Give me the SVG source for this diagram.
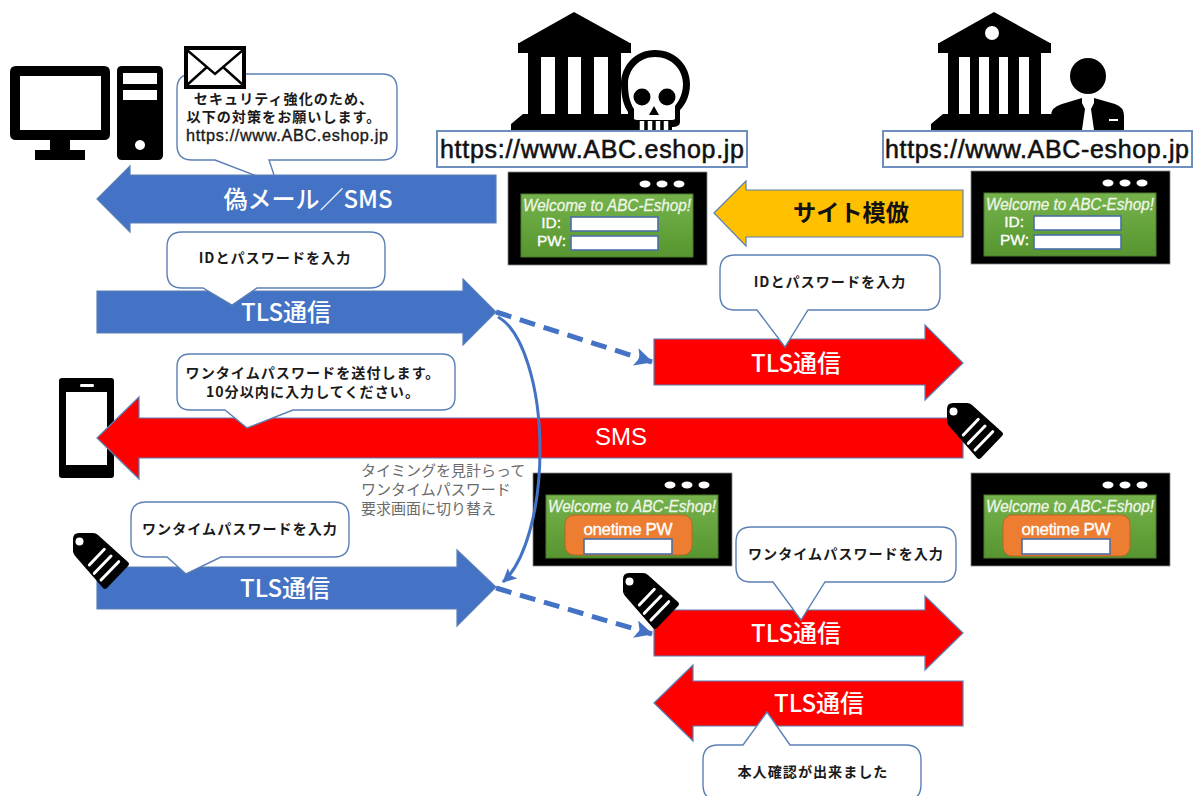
<svg xmlns="http://www.w3.org/2000/svg" xmlns:xlink="http://www.w3.org/1999/xlink" width="1198" height="796" viewBox="0 0 1198 796">
<style>
text{font-family:"Liberation Sans","Noto Sans CJK JP",sans-serif}
.cjk{font-family:"Noto Sans CJK JP","Liberation Sans",sans-serif}
.call{fill:#fff;stroke:#5b7fb5;stroke-width:1.4}
.ct{font-size:14.1px;font-weight:700;fill:#1a1a1a;text-anchor:middle;letter-spacing:1px}
.arr{stroke:#5b7fb5;stroke-width:1.2}
.blue{fill:#4472c4}.red{fill:#f00}.gold{fill:#ffc000}
.at{fill:#fff;font-size:24px;font-weight:500;text-anchor:middle;dominant-baseline:central}
.url{fill:#fff;stroke:#6f8fbf;stroke-width:2}
.ut{font-size:25px;fill:#111;stroke:#111;stroke-width:.55;text-anchor:middle}
.inp{fill:#fff;stroke:#4c6ea8;stroke-width:1.6}
.wel{font-size:17px;font-style:italic;fill:#eef6e8;stroke:#eef6e8;stroke-width:.3;text-anchor:middle}
.lab{font-size:15.5px;fill:#fff;stroke:#fff;stroke-width:.35;text-anchor:end}
.ot{font-size:17px;fill:#fff;stroke:#fff;stroke-width:.35;text-anchor:middle}
.dash{fill:none;stroke:#4472c4;stroke-width:5;stroke-dasharray:16 9}
.gr{font-size:15px;fill:#6b6b6b}
</style>
<defs>
<linearGradient id="green" x1="0" y1="0" x2="0" y2="1"><stop offset="0" stop-color="#76b34c"/><stop offset="1" stop-color="#56952f"/></linearGradient>
<marker id="ah" markerUnits="userSpaceOnUse" markerWidth="20" markerHeight="20" refX="17" refY="9" orient="auto"><path d="M0,0L18,9L0,18L4,9Z" fill="#4472c4"/></marker>
<marker id="ah2" markerUnits="userSpaceOnUse" markerWidth="16" markerHeight="16" refX="13" refY="7" orient="auto"><path d="M0,0L14,7L0,14L3,7Z" fill="#4472c4"/></marker>
<g id="tag">
<path d="M6,0H20Q23,0 25,2L55,29Q57,31 55,33L34,55Q32,57 30,55L3,24Q1,22 0,19V6Q0,0 6,0Z" fill="#000"/>
<circle cx="6.5" cy="8.5" r="4" fill="#fff"/>
<path d="M31.3,16.3L16.3,32M38,23L21.3,40.3M45.7,28.7L28,47" stroke="#fff" stroke-width="3" stroke-linecap="round" fill="none"/>
</g>
<g id="win">
<rect width="199" height="93" fill="#000" stroke="#888" stroke-width=".8"/>
<ellipse cx="137" cy="12" rx="5.500" ry="3.400" fill="#fff"/><ellipse cx="154" cy="12" rx="5.500" ry="3.400" fill="#fff"/><ellipse cx="171" cy="12" rx="5.500" ry="3.400" fill="#fff"/>
<rect x="13" y="22" width="172" height="63" fill="url(#green)" stroke="#4d7a30"/>
<text class="wel" x="99" y="39" textLength="168" lengthAdjust="spacingAndGlyphs">Welcome to ABC-Eshop!</text>
</g>
<g id="bank">
<path d="M56,0L1,31H0V41H10V102H5L-7,112V120H120V102H103V41H113V31H112Z" fill="#000"/>
</g>
</defs>

<g id="pc">
<path fill-rule="evenodd" d="M16,66H104Q110,66 110,72V134Q110,140 104,140H70V150H85V160H35V150H50V140H16Q10,140 10,134V72Q10,66 16,66ZM20,76V130H101V76Z" fill="#000"/>
<path fill-rule="evenodd" d="M122,66H158Q163,66 163,71V155Q163,160 158,160H122Q117,160 117,155V71Q117,66 122,66ZM123,73V84H157V73ZM123,90V100H157V90ZM140,140a5,5 0 1,0 .01,0Z" fill="#000"/>
</g>

<g id="msg-bubble">
<path class="call" d="M192,74H382Q397,74 397,89V145Q397,160 382,160H269L277,184L215,160H192Q177,160 177,145V89Q177,74 192,74Z"/>
<text class="ct cjk" x="284" y="104">セキュリティ強化のため、</text>
<text class="ct cjk" x="284" y="122">以下の対策をお願いします。</text>
<text class="ct" x="287" y="141" textLength="202" style="font-size:16.3px;letter-spacing:0;font-weight:400;stroke:#1a1a1a;stroke-width:.35">https://www.ABC.eshop.jp</text>
</g>
<g id="envelope">
<rect x="186" y="48" width="58" height="39" fill="#fff" stroke="#000" stroke-width="4"/>
<path d="M187,50L215,74L243,50M187,85L207,67M243,85L223,67" fill="none" stroke="#000" stroke-width="2.4"/>
</g>

<g id="arrow-fake-mail">
<path class="arr blue" d="M97,199L130,166V175H496V223H130V232Z"/>
<text class="at cjk" x="308" y="197">偽メール／SMS</text>
</g>

<g id="bank-fake">
<use xlink:href="#bank" href="#bank" x="518" y="12"/>
<path d="M541,57h14v57h-14zM568,57h13v57h-13zM594,57h14v57h-14z" fill="#fff"/>
<path fill-rule="evenodd" d="M655,50C676,50 690,66 690,84C690,97 684,106 680,110V122C680,126 676,127 672,127V136Q672,138 668,138H640Q636,138 636,136V127C632,127 628,126 628,122V112C624,106 621,97 621,84C621,66 635,50 655,50Z" fill="#000"/>
<path d="M655,57C672,57 683,70 683,84C683,96 677,103 675,106V119C675,120 670,120 668,120H642C639,120 634,120 634,119V109C630,103 628,95 628,84C628,70 639,57 655,57Z" fill="#fff"/>
<circle cx="642" cy="97" r="8.5" fill="#000"/><circle cx="667" cy="97" r="8.5" fill="#000"/>
<path d="M654,106L659,115H649Z" fill="#000"/>
<path d="M640,121V130M648,121V130M656,121V130M664,121V130" stroke="#fff" stroke-width="4.5" transform="translate(2,0)"/>
</g>
<g id="url-fake">
<rect class="url" x="437" y="131" width="310" height="36"/>
<text class="ut" x="592" y="158" textLength="304">https://www.ABC.eshop.jp</text>
</g>

<g id="window-fake">
<use xlink:href="#win" href="#win" x="508" y="172"/>
<text class="lab" x="561" y="228">ID:</text><text class="lab" x="566" y="246">PW:</text>
<rect class="inp" x="571" y="217" width="87" height="14"/><rect class="inp" x="571" y="236" width="87" height="14"/>
</g>

<g id="arrow-copy">
<path class="arr gold" d="M714,213L746,181V190H963V237H746V246Z"/>
<text class="cjk" x="851" y="221" font-size="23.200" font-weight="700" fill="#111" text-anchor="middle">サイト模倣</text>
</g>

<g id="bank-real">
<use xlink:href="#bank" href="#bank" x="938" y="12"/>
<circle cx="992" cy="33" r="7" fill="#fff"/>
<path d="M959,57h11v57h-11zM979,57h10v57h-10zM999,57h9v57h-9zM1019,57h10v57h-10z" fill="#fff"/>
<circle cx="1088" cy="76" r="18" fill="#000"/>
<path d="M1051,131V116Q1051,107 1062,104L1082,98V103L1085,109L1082,130L1088,136L1094,130L1091,109L1094,103V98L1115,104Q1124,107 1124,116V131Z" fill="#000"/>
<path d="M1109,120h9" stroke="#fff" stroke-width="2"/>
</g>
<g id="url-real">
<rect class="url" x="883" y="131" width="309" height="36"/>
<text class="ut" x="1037" y="158" textLength="304">https://www.ABC-eshop.jp</text>
</g>
<g id="window-real">
<use xlink:href="#win" href="#win" x="971" y="171"/>
<text class="lab" x="1024" y="227">ID:</text><text class="lab" x="1029" y="245">PW:</text>
<rect class="inp" x="1034" y="216" width="87" height="14"/><rect class="inp" x="1034" y="235" width="87" height="14"/>
</g>

<g id="arrow-tls-1">
<path class="arr blue" d="M97,291H463V279L496,312L463,345V333H97Z"/>
<text class="at cjk" x="286" y="310">TLS通信</text>
</g>
<g id="bubble-id-1">
<path class="call" d="M182,232H370Q385,232 385,247V273Q385,288 370,288H257L232,305L203,288H182Q167,288 167,273V247Q167,232 182,232Z"/>
<text class="ct cjk" x="275" y="263">IDとパスワードを入力</text>
</g>

<g id="arrow-tls-2">
<path class="arr red" d="M654,339H925V325L963,363L925,400V385H654Z"/>
<text class="at cjk" x="796" y="361">TLS通信</text>
</g>
<g id="bubble-id-2">
<path class="call" d="M735,255H925Q940,255 940,270V295Q940,310 925,310H808L785,347L757,310H735Q720,310 720,295V270Q720,255 735,255Z"/>
<text class="ct cjk" x="830" y="287">IDとパスワードを入力</text>
</g>

<g id="phone">
<path fill-rule="evenodd" d="M62,378H111Q114,378 114,381V475Q114,478 111,478H62Q59,478 59,475V381Q59,378 62,378ZM66,392V465H107V392ZM81,384Q80,384 80,385.500Q80,387 81,387H93Q94,387 94,385.500Q94,384 93,384Z" fill="#000"/>
</g>
<g id="arrow-sms">
<path class="arr red" d="M97,438L139,397V418H963V458H139V479Z"/>
<text class="at" x="621" y="436">SMS</text>
</g>
<g id="bubble-otp-notice">
<path class="call" d="M190,354H442Q455,354 455,367V397Q455,410 442,410H293L247,428L225,410H190Q177,410 177,397V367Q177,354 190,354Z"/>
<text class="ct cjk" x="313" y="378">ワンタイムパスワードを送付します。</text>
<text class="ct cjk" x="313" y="397">10分以内に入力してください。</text>
</g>
<use id="tag-sms" xlink:href="#tag" href="#tag" x="947" y="403"/>

<g id="note-timing" class="cjk">
<text class="gr cjk" x="361" y="476">タイミングを見計らって</text>
<text class="gr cjk" x="361" y="495">ワンタイムパスワード</text>
<text class="gr cjk" x="361" y="514">要求画面に切り替え</text>
</g>

<g id="window-otp-fake">
<use xlink:href="#win" href="#win" x="533" y="473"/>
<rect x="565" y="515" width="127" height="40" rx="9" fill="#ed7d31" stroke="#c0652a"/>
<text class="ot" x="628" y="535" textLength="89">onetime PW</text>
<rect class="inp" x="584" y="539" width="88" height="15"/>
</g>
<g id="window-otp-real">
<use xlink:href="#win" href="#win" x="971" y="473"/>
<rect x="1003" y="515" width="127" height="41" rx="9" fill="#ed7d31" stroke="#c0652a"/>
<text class="ot" x="1066" y="535" textLength="89">onetime PW</text>
<rect class="inp" x="1022" y="539" width="88" height="15"/>
</g>

<g id="arrow-tls-3">
<path class="arr blue" d="M97,567H457V550L496,587L457,626V609H97Z"/>
<text class="at cjk" x="285" y="586">TLS通信</text>
</g>
<g id="bubble-otp-1">
<path class="call" d="M146,502H334Q349,502 349,517V542Q349,557 334,557H221L186,574L167,557H146Q131,557 131,542V517Q131,502 146,502Z"/>
<text class="ct cjk" x="240" y="534">ワンタイムパスワードを入力</text>
</g>
<use id="tag-left" xlink:href="#tag" href="#tag" x="73" y="533"/>

<g id="arrow-tls-4">
<path class="arr red" d="M654,610H925V596L963,633L925,670V656H654Z"/>
<text class="at cjk" x="796" y="631">TLS通信</text>
</g>
<g id="bubble-otp-2">
<path class="call" d="M751,527H941Q956,527 956,542V567Q956,582 941,582H825L801,620L773,582H751Q736,582 736,567V542Q736,527 751,527Z"/>
<text class="ct cjk" x="846" y="559">ワンタイムパスワードを入力</text>
</g>
<use id="tag-mid" xlink:href="#tag" href="#tag" x="623" y="573"/>

<g id="arrow-tls-5">
<path class="arr red" d="M654,703L693,665V681H963V726H693V741Z"/>
<text class="at cjk" x="819" y="701">TLS通信</text>
</g>
<g id="bubble-confirm">
<path class="call" d="M718,745H743L767,712L790,745H906Q921,745 921,760V785Q921,800 906,800H718Q703,800 703,785V760Q703,745 718,745Z"/>
<text class="ct cjk" x="813" y="777">本人確認が出来ました</text>
</g>

<g id="connectors">
<path class="dash" d="M496,312L652,362" marker-end="url(#ah)"/>
<path class="dash" d="M496,588L652,634" marker-end="url(#ah)"/>
<path d="M498,317C522,330 540,385 540,450C540,510 525,562 503,582" fill="none" stroke="#4472c4" stroke-width="3" marker-end="url(#ah2)"/>
</g>
</svg>
